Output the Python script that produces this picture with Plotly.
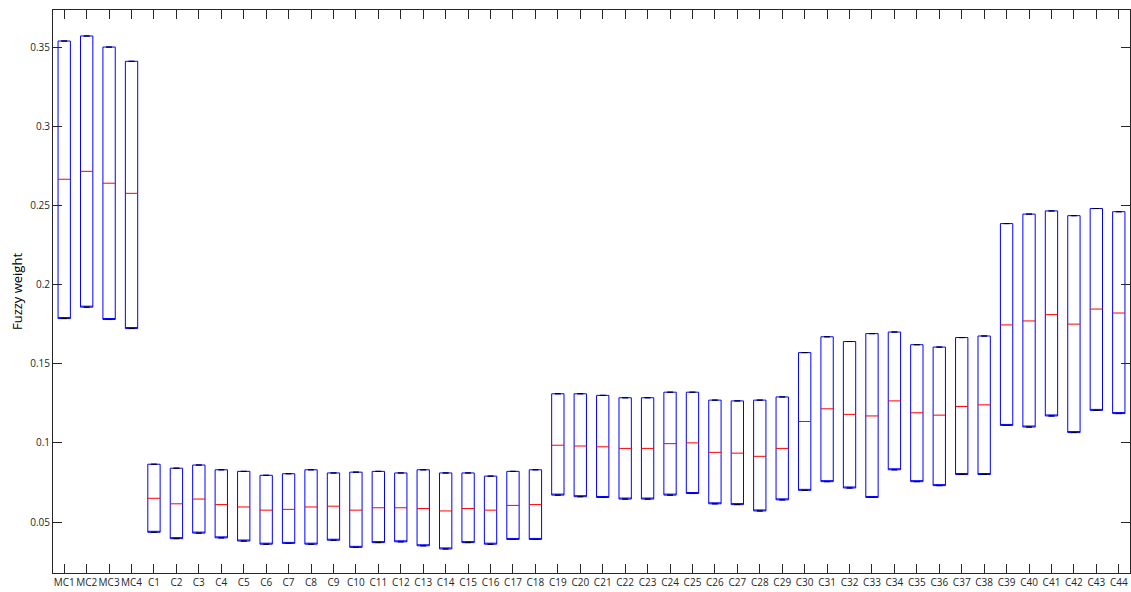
import plotly.graph_objects as go

categories = ["MC1", "MC2", "MC3", "MC4"] + [f"C{i}" for i in range(1, 45)]

lower = [0.1785, 0.1857, 0.1779, 0.1722,
         0.0435, 0.0395, 0.0430, 0.0400, 0.0380, 0.0360, 0.0365, 0.0360, 0.0385, 0.0340,
         0.0370, 0.0375, 0.0350, 0.0330, 0.0370, 0.0360, 0.0390, 0.0390,
         0.0670, 0.0660, 0.0655, 0.0645, 0.0645, 0.0670, 0.0680, 0.0615, 0.0610, 0.0570,
         0.0640, 0.0700, 0.0755, 0.0715, 0.0655, 0.0830, 0.0755, 0.0730, 0.0800, 0.0800,
         0.1110, 0.1100, 0.1170, 0.1065, 0.1205, 0.1185]

median = [0.2665, 0.2715, 0.2640, 0.2576,
          0.0650, 0.0615, 0.0645, 0.0610, 0.0595, 0.0575, 0.0580, 0.0595, 0.0600, 0.0575,
          0.0590, 0.0590, 0.0585, 0.0570, 0.0585, 0.0575, 0.0605, 0.0610,
          0.0985, 0.0980, 0.0975, 0.0965, 0.0965, 0.0995, 0.1000, 0.0940, 0.0935, 0.0915,
          0.0965, 0.1135, 0.1215, 0.1180, 0.1170, 0.1265, 0.1190, 0.1175, 0.1230, 0.1240,
          0.1745, 0.1770, 0.1810, 0.1750, 0.1845, 0.1820]

upper = [0.3538, 0.3570, 0.3500, 0.3410,
         0.0865, 0.0840, 0.0860, 0.0830, 0.0820, 0.0795, 0.0805, 0.0830, 0.0810, 0.0815,
         0.0820, 0.0810, 0.0830, 0.0810, 0.0810, 0.0790, 0.0820, 0.0830,
         0.1310, 0.1310, 0.1300, 0.1285, 0.1285, 0.1320, 0.1320, 0.1270, 0.1265, 0.1270,
         0.1290, 0.1570, 0.1670, 0.1640, 0.1690, 0.1700, 0.1620, 0.1605, 0.1665, 0.1675,
         0.2385, 0.2445, 0.2465, 0.2435, 0.2480, 0.2460]

y_ticks = [0.05, 0.1, 0.15, 0.2, 0.25, 0.3, 0.35]
y_ticktext = ["0.05", "0.1", "0.15", "0.2", "0.25", "0.3", "0.35"]

xs = list(range(len(categories)))
half = 0.275

fig = go.Figure()
# box outline (its own median line is parked on the lower edge; red medians drawn below)
fig.add_trace(go.Box(
    x=xs, q1=lower, median=lower, q3=upper,
    lowerfence=lower, upperfence=upper,
    width=2 * half,
    line=dict(color="#0000ff", width=1),
    fillcolor="rgba(255,255,255,0)",
    boxpoints=False, showlegend=False, hoverinfo="skip",
))

mx, my = [], []
for i, m in enumerate(median):
    mx += [i - half, i + half, None]
    my += [m, m, None]
fig.add_trace(go.Scatter(x=mx, y=my, mode="lines",
                         line=dict(color="#ff0000", width=1),
                         showlegend=False, hoverinfo="skip"))

fig.add_trace(go.Scatter(x=xs + xs, y=lower + upper, mode="markers",
                         marker=dict(symbol="line-ew", size=4,
                                     line=dict(color="black", width=1)),
                         showlegend=False, hoverinfo="skip"))

fig.update_layout(
    width=1131, height=592,
    margin=dict(l=53, r=1, t=10, b=19, autoexpand=False),
    paper_bgcolor="white", plot_bgcolor="white",
    font=dict(family="Open Sans", size=10, color="#262626"),
)
fig.update_xaxes(
    range=[-0.5, len(categories) - 0.5],
    tickvals=xs, ticktext=categories, tickangle=0, automargin=False,
    ticks="inside", ticklen=9, tickcolor="#262626",
    showline=True, linecolor="#262626", linewidth=1, mirror="ticks",
    showgrid=False, zeroline=False, tickfont=dict(size=10),
)
fig.update_yaxes(
    range=[0.0178, 0.3734], automargin=False,
    tickvals=y_ticks, ticktext=y_ticktext,
    ticks="inside", ticklen=9, tickcolor="#262626",
    showline=True, linecolor="#262626", linewidth=1, mirror="ticks",
    showgrid=False, zeroline=False, tickfont=dict(size=10),
    title=dict(text="Fuzzy weight", font=dict(size=13, color="black"), standoff=4),
)

fig.write_html(
    "out.html",
    config={"displayModeBar": False},
    post_script="document.body.style.margin='0';document.body.style.overflow='hidden';",
)
